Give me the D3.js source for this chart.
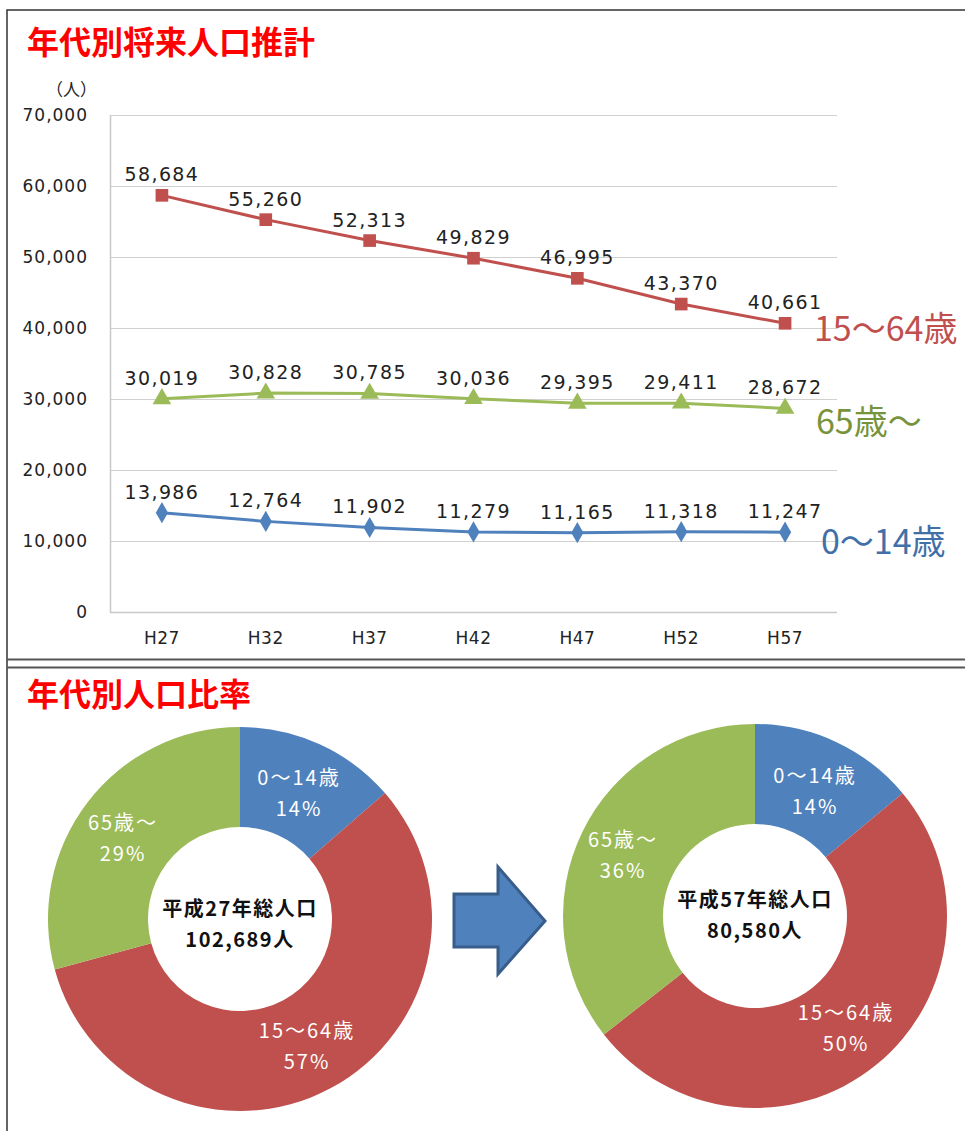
<!DOCTYPE html>
<html><head><meta charset="utf-8">
<script src="https://cdn.jsdelivr.net/npm/d3@7"></script>
<style>body{margin:0;background:#fff}svg{display:block}</style>
</head><body>
<svg id="c" width="965" height="1131"></svg>
<script>
const years = ["H27","H32","H37","H42","H47","H52","H57"];
const age0_14 = [13986,12764,11902,11279,11165,11318,11247];
const age15_64 = [58684,55260,52313,49829,46995,43370,40661];
const age65 = [30019,30828,30785,30036,29395,29411,28672];
const yTicks = [0,10000,20000,30000,40000,50000,60000,70000];
const seriesNames = ["0〜14歳","15〜64歳","65歳〜"];
const pieLeftTitle = ["平成27年総人口","102,689人"];
const pieRightTitle = ["平成57年総人口","80,580人"];

const svg = d3.select("#c");
const tickFont = "'DejaVu Sans', Verdana, sans-serif";
const jpFont = "'Noto Sans CJK JP', sans-serif";

// frames
svg.append("path").attr("d","M7,1131 V10 H966").attr("fill","none").attr("stroke","#333").attr("stroke-width",1.5);
svg.append("line").attr("x1",7).attr("x2",966).attr("y1",659.5).attr("y2",659.5).attr("stroke","#555").attr("stroke-width",2);
svg.append("line").attr("x1",7).attr("x2",966).attr("y1",667.5).attr("y2",667.5).attr("stroke","#555").attr("stroke-width",2);

// titles
svg.append("text").attr("x",27).attr("y",54).text("年代別将来人口推計")
  .attr("font-family",jpFont).attr("font-weight",700).attr("font-size",32).attr("fill","#ff0000");
svg.append("text").attr("x",27).attr("y",706).text("年代別人口比率")
  .attr("font-family",jpFont).attr("font-weight",700).attr("font-size",32).attr("fill","#ff0000");

// line chart
const x = d3.scaleBand().domain(years).range([110,837]);
const y = d3.scaleLinear().domain([0,70000]).range([612,115]);
const g = svg.append("g");
g.selectAll(".grid").data(yTicks.slice(1)).join("line")
  .attr("x1",110).attr("x2",837).attr("y1",d=>y(d)+0.5).attr("y2",d=>y(d)+0.5)
  .attr("stroke","#d0d0d0").attr("stroke-width",1.2);
g.append("line").attr("x1",110.5).attr("x2",110.5).attr("y1",115).attr("y2",612).attr("stroke","#c8c8c8").attr("stroke-width",1.5);
g.append("line").attr("x1",110).attr("x2",837).attr("y1",612.5).attr("y2",612.5).attr("stroke","#c8c8c8").attr("stroke-width",1.5);

const yAxis = d3.axisLeft(y).tickValues(yTicks).tickFormat(d3.format(",")).tickSize(0).tickPadding(22);
const ya = g.append("g").attr("transform","translate(110,0)").call(yAxis);
ya.select(".domain").remove();
ya.selectAll("text").attr("font-family",tickFont).attr("font-size",17).attr("letter-spacing",1).attr("fill","#222");
const xAxis = d3.axisBottom(x).tickSize(0).tickPadding(20);
const xa = g.append("g").attr("transform","translate(0,612)").call(xAxis);
xa.select(".domain").remove();
xa.selectAll("text").attr("font-family",tickFont).attr("font-size",17).attr("letter-spacing",0.5).attr("fill","#222");

svg.append("text").attr("x",46).attr("y",96).text("（人）").attr("font-family",jpFont).attr("font-size",17).attr("fill","#222");

const cx = d => x(d) + x.bandwidth()/2;
const series = [
  {vals:age15_64,color:"#C0504D",marker:"square",label:seriesNames[1],lc:"#C0504D",lx:814,ly:341},
  {vals:age65,color:"#9BBB59",marker:"triangle",label:seriesNames[2],lc:"#77933C",lx:816,ly:434},
  {vals:age0_14,color:"#4F81BD",marker:"diamond",label:seriesNames[0],lc:"#4170A8",lx:821,ly:554}
];
const line = d3.line().x((d,i)=>cx(years[i])).y(d=>y(d));
series.forEach(s=>{
  g.append("path").attr("d",line(s.vals)).attr("fill","none").attr("stroke",s.color).attr("stroke-width",3);
  const sym = s.marker==="square"?d3.symbolSquare:s.marker==="triangle"?d3.symbolTriangle:d3.symbolDiamond;
  const size = s.marker==="square"?160:s.marker==="triangle"?150:130;
  g.selectAll(null).data(s.vals).join("path")
    .attr("d",d3.symbol(sym,size)).attr("transform",(d,i)=>`translate(${cx(years[i])},${y(d)})`)
    .attr("fill",s.color);
  g.selectAll(null).data(s.vals).join("text")
    .attr("x",(d,i)=>cx(years[i])).attr("y",d=>y(d)-14).attr("text-anchor","middle")
    .text(d=>d3.format(",")(d)).attr("font-family",tickFont).attr("font-size",19).attr("letter-spacing",1.4).attr("fill","#222");
  g.append("text").attr("x",s.lx).attr("y",s.ly).text(s.label)
    .attr("font-family",jpFont).attr("font-size",34).attr("fill",s.lc);
});

// donuts
const pieColors = ["#4F81BD","#C0504D","#9BBB59"];
const pie = d3.pie().sort(null).value(d=>d);
function donut(cxp, cyp, vals, title, labelPos){
  const total = d3.sum(vals);
  const arc = d3.arc().innerRadius(92).outerRadius(192);
  const gg = svg.append("g").attr("transform",`translate(${cxp},${cyp})`);
  gg.selectAll("path").data(pie(vals)).join("path").attr("d",arc).attr("fill",(d,i)=>pieColors[i]);
  pie(vals).forEach((d,i)=>{
    const p = labelPos[i];
    const t = gg.append("text").attr("text-anchor","middle").attr("font-family",jpFont).attr("font-size",20).attr("letter-spacing",2).attr("fill","#fff");
    t.append("tspan").attr("x",p[0]).attr("y",p[1]).text(seriesNames[i]);
    t.append("tspan").attr("x",p[0]).attr("y",p[1]+31).text(Math.round(d.value/total*100)+"%");
  });
  const tt = gg.append("text").attr("text-anchor","middle").attr("font-family",jpFont).attr("font-weight",700).attr("font-size",20).attr("letter-spacing",1.5).attr("fill","#111");
  tt.append("tspan").attr("x",0).attr("y",title.y1).text(title.t[0]);
  tt.append("tspan").attr("x",0).attr("y",title.y2).text(title.t[1]);
}
donut(240,919,[age0_14[0],age15_64[0],age65[0]],{t:pieLeftTitle,y1:-3,y2:28},[[59,-134],[67,119],[-117,-89]]);
donut(755,916,[age0_14[6],age15_64[6],age65[6]],{t:pieRightTitle,y1:-9,y2:22},[[60,-133],[91,104],[-132,-69]]);

// arrow
svg.append("path").attr("d","M454,894 H498 V867 L545,921 L498,974 V947 H454 Z")
  .attr("fill","#4F81BD").attr("stroke","#385D8A").attr("stroke-width",3).attr("stroke-linejoin","miter");
</script>
</body></html>
